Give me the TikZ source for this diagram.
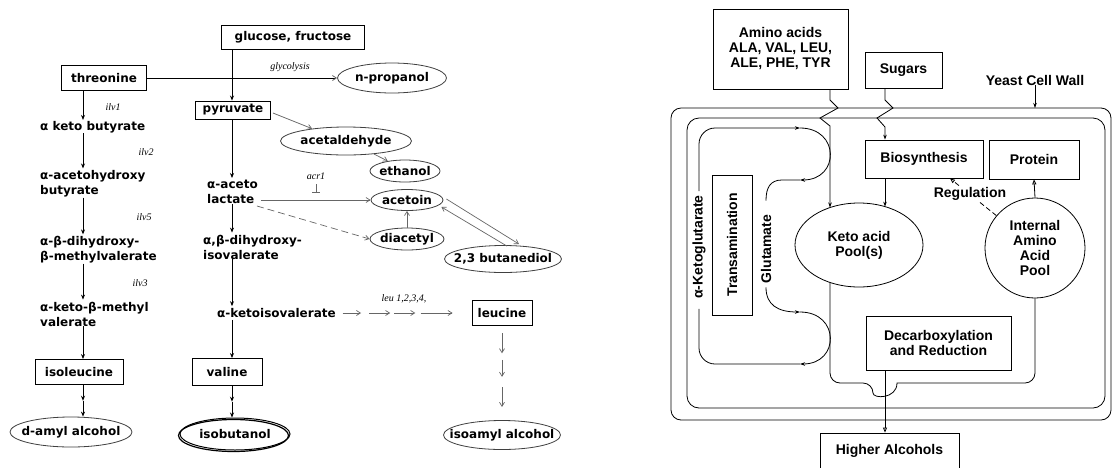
\documentclass[tikz,border=0pt]{standalone}
\usepackage{fontspec}
\setmainfont{DejaVu Sans}
\newfontfamily\lfam{DejaVu Sans}
\newfontfamily\rfam{Liberation Sans}
\newfontfamily\ifam{Liberation Serif}
\usetikzlibrary{shapes.geometric,arrows.meta,calc}
\newcommand\mkz[1]{\makebox[0pt]{#1}}
\tikzset{
 ltxt/.style={font=\lfam\bfseries\fontsize{12}{15}\selectfont, inner sep=0pt, align=left, anchor=west},
 lboxs/.style={draw, line width=0.9pt, inner sep=0pt, font=\lfam\bfseries\fontsize{12}{15}\selectfont},
 lells/.style={draw=black!75, line width=0.8pt, ellipse, inner sep=0pt, font=\lfam\bfseries\fontsize{12}{15}\selectfont},
 genel/.style={font=\ifam\itshape\fontsize{10}{11}\selectfont, inner sep=0pt},
 blkarr/.style={-{Stealth[length=5pt,width=4pt]}, line width=0.8pt},
 gryarr/.style={-{Straight Barb[length=4pt,width=5pt]}, draw=black!60, line width=0.7pt},
 rboxs/.style={draw, line width=0.8pt, inner sep=0pt, align=center, font=\rfam\bfseries\fontsize{14}{15}\selectfont},
 rtxt/.style={inner sep=0pt, align=center, font=\rfam\bfseries\fontsize{14}{15}\selectfont},
 rline/.style={line width=0.8pt},
 rarr/.style={rline, -{Stealth[length=5pt,width=3.5pt]}},
 rtri/.style={rline, -{Triangle[open,length=5pt,width=4pt]}},
}
\begin{document}
\begin{tikzpicture}[x=1pt,y=-1pt]
\useasboundingbox (0,0) rectangle (1112,467);
\clip (0,0) rectangle (1112,467);
\fill[white] (0,0) rectangle (1112,467);

% ---------------- left panel ----------------
\coordinate (xl) at (83,0);
\coordinate (xm) at (232,0);

\node[lboxs, minimum width=143, minimum height=24] (glu) at (293,37) {glucose, fructose};
\node[lboxs, minimum width=85, minimum height=25] (thr) at (104,78) {threonine};
\node[lells, minimum width=109, minimum height=30] (npro) at (392,78) {\mkz{n-propanol}};
\node[lboxs, minimum width=75, minimum height=18] (pyr) at (233,110) {pyruvate};
\node[lells, minimum width=131, minimum height=28] (acet) at (346,141) {\mkz{acetaldehyde}};
\node[lells, minimum width=70, minimum height=22] (eth) at (405,171) {\mkz{ethanol}};
\node[lells, minimum width=72, minimum height=21] (acn) at (407,200) {\mkz{acetoin}};
\node[lells, minimum width=74, minimum height=22] (dia) at (407,239) {\mkz{diacetyl}};
\node[lells, minimum width=117, minimum height=27] (but) at (503,259) {\mkz{2,3 butanediol}};
\node[lboxs, minimum width=60, minimum height=25] (leu) at (502,313) {leucine};
\node[lboxs, minimum width=88, minimum height=25] (ile) at (79,372) {isoleucine};
\node[lboxs, minimum width=70, minimum height=27] (val) at (227,372) {valine};
\node[lells, minimum width=122, minimum height=30] (damyl) at (71,432) {\mkz{d-amyl alcohol}};
\node[lells, draw=black, line width=1pt, minimum width=110, minimum height=32] (ibut) at (235,434) {\mkz{isobutanol}};
\draw[line width=1.2pt] ($(ibut.center)+(-1.5,1.5)$) ellipse [x radius=55, y radius=16];
\node[lells, minimum width=117, minimum height=29] (iam) at (502,435) {\mkz{isoamyl alcohol}};

\node[ltxt] (akb) at (40,127) {α keto butyrate};
\node[ltxt] (aah) at (40,184) {α-acetohydroxy\\butyrate};
\node[ltxt] (adh) at (40,250) {α-β-dihydroxy-\\β-methylvalerate};
\node[ltxt] (akm) at (40,314) {α-keto-β-methyl\\valerate};
\node[ltxt] (aal) at (207,192) {α-aceto\\lactate};
\node[ltxt] (adi) at (203,247) {α,β-dihydroxy-\\isovalerate};
\node[ltxt] (aki) at (217,313) {α-ketoisovalerate};

\node[genel] (g1) at (113,107) {ilv1};
\node[genel] (g2) at (146,152) {ilv2};
\node[genel] (g5) at (144,217) {ilv5};
\node[genel] (g3) at (140,283) {ilv3};
\node[genel] (gly) at (290,67) {glycolysis};
\node[genel] (acr) at (316,176) {acr1};
\node[genel] (leul) at (404,299) {leu 1,2,3,4,};

% left column
\draw[blkarr, shorten >=1pt] (thr.south -| xl) -- (akb.north -| xl);
\draw[blkarr, shorten >=2pt] (akb.south -| xl) -- (aah.north -| xl);
\draw[blkarr, shorten >=2pt] (aah.south -| xl) -- (adh.north -| xl);
\draw[blkarr, shorten >=2pt] (adh.south -| xl) -- (akm.north -| xl);
\draw[blkarr] (akm.south -| xl) -- (ile.north -| xl);
\draw[blkarr] (ile.south -| xl) -- ($(ile.south -| xl)!0.5!(damyl.north -| xl)$);
\draw[blkarr] ($(ile.south -| xl)!0.5!(damyl.north -| xl)$) -- (damyl.north -| xl);
% middle column
\draw[blkarr] (glu.south -| xm) -- (pyr.north -| xm);
\draw[blkarr, shorten >=2pt] (pyr.south -| xm) -- (aal.north -| xm);
\draw[blkarr, shorten >=2pt] (aal.south -| xm) -- (adi.north -| xm);
\draw[blkarr, shorten >=2pt] (adi.south -| xm) -- (aki.north -| xm);
\draw[blkarr, shorten <=2pt] (aki.south -| xm) -- (val.north -| xm);
\draw[blkarr] (val.south -| xm) -- ($(val.south -| xm)!0.5!(ibut.north -| xm)$);
\draw[blkarr] ($(val.south -| xm)!0.5!(ibut.north -| xm)$) -- (ibut.north -| xm);
% threonine -> n-propanol
\draw[line width=0.8pt, -{Straight Barb[length=4pt,width=5pt,color=black!60]}] (thr.east) -- (npro.west);
% side branches
\draw[gryarr] ($(pyr.east)+(2,3)$) -- (acet.160);
\draw[gryarr] (acet.-25) -- (eth.150);
\draw[gryarr] ($(aal.east)+(3,8)$) -- (acn.west);
\draw[black!60, line width=0.8pt] (316,184) -- (316,192) (312,192) -- (320,192);
\draw[gryarr, dash pattern=on 7pt off 4pt] ($(aal.east)+(-1,14)$) -- (dia.west);
\draw[gryarr] (dia.north) -- (acn.south);
\draw[gryarr] ($(acn.east)+(3,-1)$) -- ($(but.north)+(16,-1)$);
\draw[gryarr] ($(but.north)+(4,1)$) -- ($(acn.east)+(-2,7)$);
% leu arrows
\draw[gryarr] ($(aki.east)!0.05!(leu.west)$) -- ($(aki.east)!0.185!(leu.west)$);
\draw[gryarr] ($(aki.east)!0.245!(leu.west)$) -- ($(aki.east)!0.40!(leu.west)$);
\draw[gryarr] ($(aki.east)!0.43!(leu.west)$) -- ($(aki.east)!0.585!(leu.west)$);
\draw[gryarr] ($(aki.east)!0.625!(leu.west)$) -- ($(aki.east)!0.86!(leu.west)$);
\draw[gryarr] ($(leu.south)!0.08!(iam.north)$) -- ($(leu.south)!0.29!(iam.north)$);
\draw[gryarr] ($(leu.south)!0.36!(iam.north)$) -- ($(leu.south)!0.54!(iam.north)$);
\draw[gryarr] ($(leu.south)!0.65!(iam.north)$) -- ($(leu.south)!0.86!(iam.north)$);

% ---------------- right panel ----------------
\draw[rline, rounded corners=10] (671,108) rectangle (1111,420);
\draw[rline, rounded corners=12] (687,118) rectangle (1105,408);
\coordinate (owt) at (700,108);

\node[rboxs, minimum width=135, minimum height=80] (amino) at (780.5,49) {Amino acids\\ALA, VAL, LEU,\\ALE, PHE, TYR};
\node[rboxs, minimum width=77, minimum height=36] (sug) at (903.5,70) {Sugars};
\node[rtxt] (ycw) at (1035,80) {Yeast Cell Wall};
\node[rboxs, minimum width=118, minimum height=38] (bio) at (924,159) {Biosynthesis};
\node[rboxs, minimum width=90, minimum height=39] (prot) at (1034,159.5) {Protein};
\node[rtxt, draw, rline, ellipse, minimum width=128, minimum height=84] (keto) at (859,245) {Keto acid\\Pool(s)};
\node[rtxt, draw, rline, circle, minimum size=100] (iaap) at (1035,248) {Internal\\Amino\\Acid\\Pool};
\node[rboxs, minimum width=145, minimum height=54] (dec) at (938.5,343) {Decarboxylation\\and Reduction};
\node[rboxs, minimum width=40, minimum height=140] (tra) at (732,245) {\rotatebox{90}{Transamination}};
\node[rtxt, rotate=90] (akg) at (699,247) {α-Ketoglutarate};
\node[rtxt, rotate=90] (glm) at (766,249) {Glutamate};
\node[rboxs, minimum width=139, minimum height=36] (hal) at (889.5,451) {Higher Alcohols};

\draw[rarr] (ycw.south) -- (ycw.south |- owt);
% zigzag entries
\draw[rarr] (amino.south -| 830,0) -- (830,100) -- (838,108) -- (820,118) -- (830,126) -- ($(keto.center)+(-29,-37.5)$);
\draw[rarr] (sug.south -| 885,0) -- (885,100) -- (893,108) -- (877,118) -- (885,127) -- (bio.north -| 885,0);
\draw[rarr] (bio.south -| 885,0) -- ($(keto.center)+(26,-38.4)$);
% keto pool to internal pool
\draw[rline] ($(keto.center)+(-29,37.4)$) [rounded corners=10] -- (830,383) -- (873,383) [sharp corners]
   .. controls (873,399) and (897,399) .. (897,383) [rounded corners=10] -- (1035,383) -- (iaap.south);
\draw[rtri] (dec.south -| 885,0) -- (hal.north -| 885,0);
\draw[rtri] (iaap.north) -- (prot.south);
\draw[rtri, dash pattern=on 5pt off 3pt] (iaap.140) -- ($(bio.south)+(26,0)$);
\node[rtxt, fill=white, inner sep=1pt] (reg) at (970,194) {Regulation};
% transamination loops
\draw[rarr, rounded corners=16] ($(akg.east)+(0,-4)$) -- (699,128) -- (800,128);
\draw[rarr] (800,128) .. controls (840,128) and (840,180) .. (800,180);
\draw[rline] (800,180) -- (782,180) .. controls (770,180) and (766,188) .. ($(glm.east)+(0,-14)$);
\draw[rarr] ($(glm.west)+(0,4)$) .. controls (766,305) and (778,312) .. (800,312);
\draw[rarr] (800,312) .. controls (840,312) and (840,364) .. (800,364);
\draw[rline, rounded corners=16] (800,364) -- (699,364) -- ($(akg.west)+(0,10)$);
\end{tikzpicture}
\end{document}
